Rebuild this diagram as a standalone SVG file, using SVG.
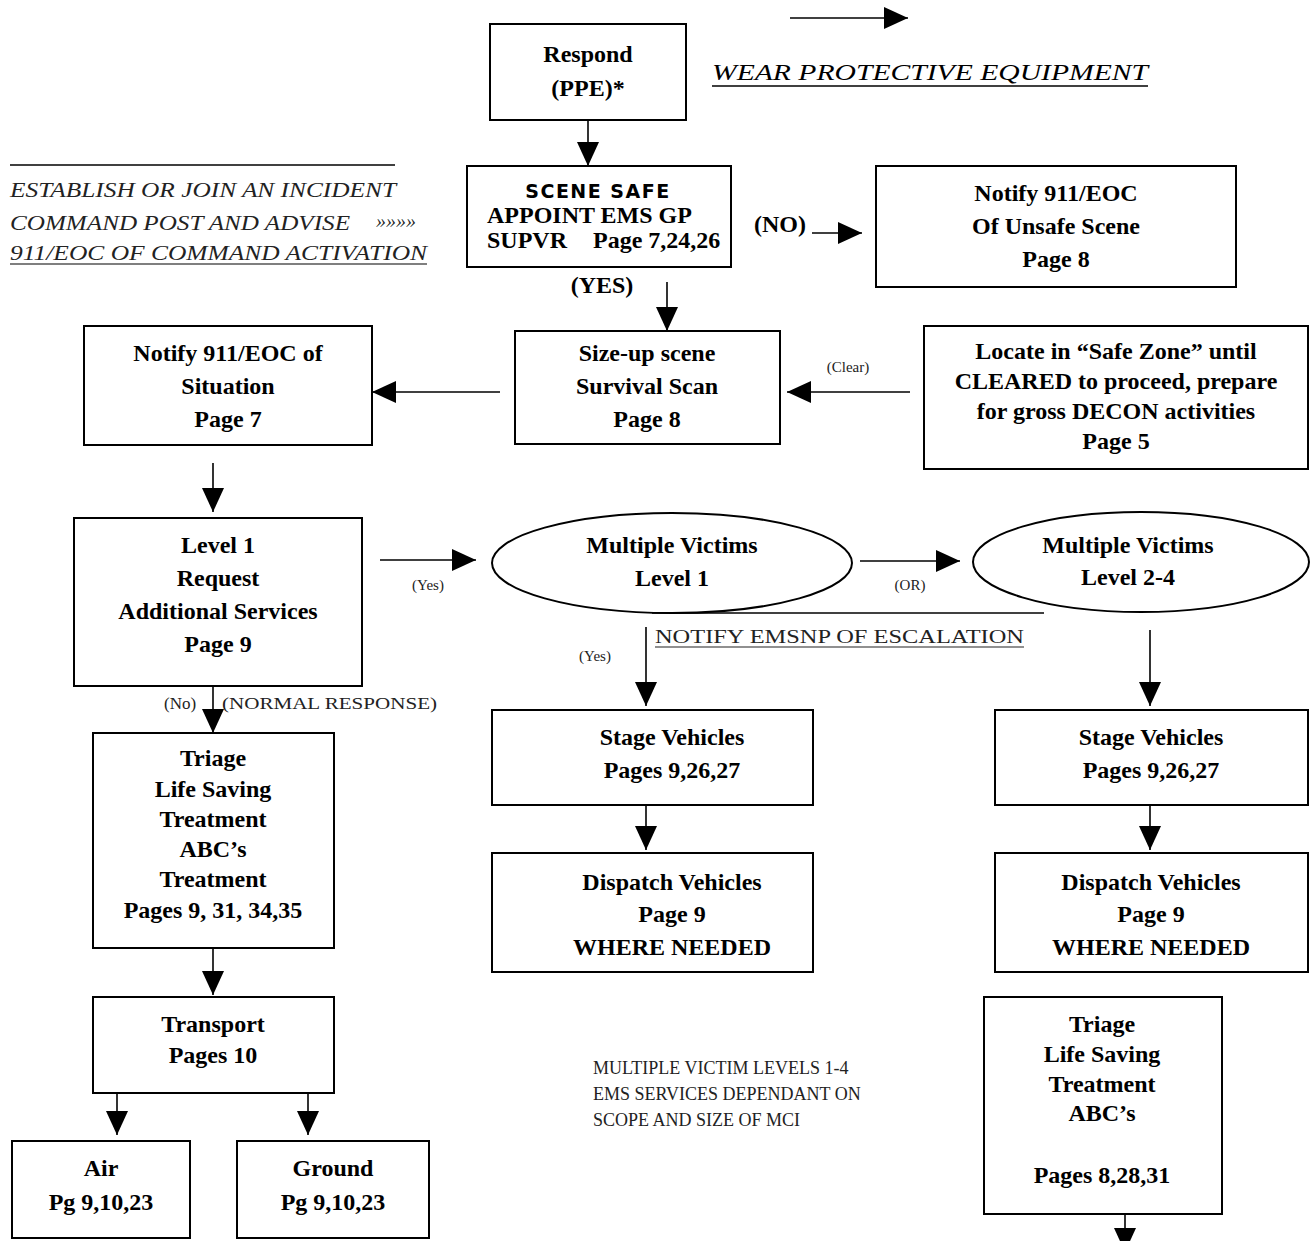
<svg xmlns="http://www.w3.org/2000/svg" width="1314" height="1241" viewBox="0 0 1314 1241">
<style>
.box{fill:#fff;stroke:#000;stroke-width:2}
.t{font-family:"Liberation Serif","Times New Roman",serif;font-weight:bold;font-size:24px;fill:#000;text-anchor:middle}
.l{text-anchor:start}
.s{font-family:"Liberation Serif","Times New Roman",serif;font-size:15px;fill:#222;text-anchor:middle}
.it{font-family:"Liberation Serif","Times New Roman",serif;font-style:italic;font-size:20px;fill:#222}
.c{stroke:#000;stroke-width:1.6;fill:none}
</style>
<defs>
<marker id="ah" viewBox="0 0 24 22" refX="24" refY="11" markerWidth="24" markerHeight="22" markerUnits="userSpaceOnUse" orient="auto">
<path d="M0,0 L24,11 L0,22 Z" fill="#000"/>
</marker>
</defs>
<rect width="1314" height="1241" fill="#fff"/>

<g id="connectors">
<line class="c" x1="790" y1="18" x2="908" y2="18" marker-end="url(#ah)"/>
<line class="c" x1="588" y1="120" x2="588" y2="166" marker-end="url(#ah)"/>
<line class="c" x1="812" y1="233" x2="862" y2="233" marker-end="url(#ah)"/>
<line class="c" x1="667" y1="282" x2="667" y2="331" marker-end="url(#ah)"/>
<line class="c" x1="500" y1="392" x2="372" y2="392" marker-end="url(#ah)"/>
<line class="c" x1="910" y1="392" x2="787" y2="392" marker-end="url(#ah)"/>
<line class="c" x1="213" y1="463" x2="213" y2="512" marker-end="url(#ah)"/>
<line class="c" x1="380" y1="560" x2="476" y2="560" marker-end="url(#ah)"/>
<line class="c" x1="860" y1="561" x2="960" y2="561" marker-end="url(#ah)"/>
<line class="c" x1="652" y1="613" x2="1044" y2="613"/>
<line class="c" x1="646" y1="627" x2="646" y2="706" marker-end="url(#ah)"/>
<line class="c" x1="1150" y1="630" x2="1150" y2="706" marker-end="url(#ah)"/>
<line class="c" x1="213" y1="686" x2="213" y2="733" marker-end="url(#ah)"/>
<line class="c" x1="646" y1="805" x2="646" y2="850" marker-end="url(#ah)"/>
<line class="c" x1="1150" y1="805" x2="1150" y2="850" marker-end="url(#ah)"/>
<line class="c" x1="213" y1="948" x2="213" y2="995" marker-end="url(#ah)"/>
<line class="c" x1="117" y1="1088" x2="117" y2="1135" marker-end="url(#ah)"/>
<line class="c" x1="308" y1="1088" x2="308" y2="1135" marker-end="url(#ah)"/>
<line class="c" x1="1125" y1="1214" x2="1125" y2="1252" marker-end="url(#ah)"/>
</g>

<g id="labels">
<text x="712" y="80" font-family="Liberation Serif, serif" font-style="italic" font-size="24" textLength="436" lengthAdjust="spacingAndGlyphs" fill="#000">WEAR PROTECTIVE EQUIPMENT</text>
<line x1="712" y1="86" x2="1148" y2="86" stroke="#000" stroke-width="1.5"/>
<line x1="10" y1="165" x2="395" y2="165" stroke="#000" stroke-width="1.5"/>
<text class="it" x="10" y="197" textLength="386" lengthAdjust="spacingAndGlyphs">ESTABLISH OR JOIN AN INCIDENT</text>
<text class="it" x="10" y="230" textLength="340" lengthAdjust="spacingAndGlyphs">COMMAND POST AND ADVISE</text>
<text class="it" x="376" y="228" font-size="13">»»»»</text>
<text class="it" x="10" y="260" textLength="417" lengthAdjust="spacingAndGlyphs">911/EOC OF COMMAND ACTIVATION</text>
<line x1="10" y1="264" x2="427" y2="264" stroke="#000" stroke-width="1.2"/>
<text class="t" x="602" y="293" font-size="25">(YES)</text>
<text class="t" x="780" y="232" font-size="25">(NO)</text>
<text class="s" x="848" y="372">(Clear)</text>
<text class="s" x="428" y="590">(Yes)</text>
<text class="s" x="910" y="590">(OR)</text>
<text x="655" y="643" font-family="Liberation Serif, serif" font-size="18" fill="#222" textLength="369" lengthAdjust="spacingAndGlyphs">NOTIFY EMSNP OF ESCALATION</text>
<line x1="655" y1="647" x2="1024" y2="647" stroke="#222" stroke-width="1.2"/>
<text class="s" x="595" y="661">(Yes)</text>
<text x="164" y="709" font-family="Liberation Serif, serif" font-size="17" fill="#222">(No)</text>
<text x="222" y="709" font-family="Liberation Serif, serif" font-size="17" fill="#222" textLength="215" lengthAdjust="spacingAndGlyphs">(NORMAL RESPONSE)</text>
<g font-family="Liberation Serif, serif" font-size="18" fill="#222">
<text x="593" y="1074">MULTIPLE VICTIM LEVELS 1-4</text>
<text x="593" y="1100">EMS SERVICES DEPENDANT ON</text>
<text x="593" y="1126">SCOPE AND SIZE OF MCI</text>
</g>
</g>

<g id="respond"><rect class="box" x="490" y="24" width="196" height="96"/>
<text class="t" x="588" y="62" font-size="26">Respond</text><text class="t" x="588" y="96" font-size="26">(PPE)*</text></g>

<g id="scene-safe"><rect class="box" x="467" y="166" width="264" height="101"/>
<text x="598" y="198" font-family="DejaVu Sans, sans-serif" font-weight="900" font-size="19" text-anchor="middle" letter-spacing="1.5">SCENE SAFE</text>
<text class="t l" x="487" y="223" font-size="16">APPOINT EMS GP</text>
<text class="t l" x="487" y="248" font-size="16">SUPVR</text>
<text class="t l" x="593" y="248" font-size="16">Page 7,24,26</text></g>

<g id="notify-unsafe"><rect class="box" x="876" y="166" width="360" height="121"/>
<text class="t" x="1056" y="201">Notify 911/EOC</text><text class="t" x="1056" y="234">Of Unsafe Scene</text><text class="t" x="1056" y="267">Page 8</text></g>

<g id="notify-situation"><rect class="box" x="84" y="326" width="288" height="119"/>
<text class="t" x="228" y="361">Notify 911/EOC of</text><text class="t" x="228" y="394">Situation</text><text class="t" x="228" y="427">Page 7</text></g>

<g id="size-up"><rect class="box" x="515" y="331" width="265" height="113"/>
<text class="t" x="647" y="361">Size-up scene</text><text class="t" x="647" y="394">Survival Scan</text><text class="t" x="647" y="427">Page 8</text></g>

<g id="locate"><rect class="box" x="924" y="326" width="384" height="143"/>
<text class="t" font-size="21" x="1116" y="359">Locate in “Safe Zone” until</text><text class="t" font-size="21" x="1116" y="389">CLEARED to proceed, prepare</text><text class="t" font-size="21" x="1116" y="419">for gross DECON activities</text><text class="t" font-size="21" x="1116" y="449">Page 5</text></g>

<g id="level1"><rect class="box" x="74" y="518" width="288" height="168"/>
<text class="t" x="218" y="553">Level 1</text><text class="t" x="218" y="586">Request</text><text class="t" x="218" y="619">Additional Services</text><text class="t" x="218" y="652">Page 9</text></g>

<g id="mv-level1"><ellipse class="box" cx="672" cy="563" rx="180" ry="50"/>
<text class="t" x="672" y="553">Multiple Victims</text><text class="t" x="672" y="586">Level 1</text></g>

<g id="mv-level24"><ellipse class="box" cx="1141" cy="562" rx="168" ry="50"/>
<text class="t" x="1128" y="553">Multiple Victims</text><text class="t" x="1128" y="585">Level 2-4</text></g>

<g id="triage-left"><rect class="box" x="93" y="733" width="241" height="215"/>
<text class="t" font-size="22" x="213" y="766">Triage</text><text class="t" font-size="22" x="213" y="797">Life Saving</text><text class="t" font-size="22" x="213" y="827">Treatment</text><text class="t" font-size="22" x="213" y="857">ABC’s</text><text class="t" font-size="22" x="213" y="887">Treatment</text><text class="t" font-size="22" x="213" y="918">Pages 9, 31, 34,35</text></g>

<g id="transport"><rect class="box" x="93" y="997" width="241" height="96"/>
<text class="t" font-size="22" x="213" y="1032">Transport</text><text class="t" font-size="22" x="213" y="1063">Pages 10</text></g>

<g id="air"><rect class="box" x="12" y="1141" width="178" height="97"/>
<text class="t" x="101" y="1176">Air</text><text class="t" x="101" y="1210">Pg 9,10,23</text></g>

<g id="ground"><rect class="box" x="237" y="1141" width="192" height="97"/>
<text class="t" x="333" y="1176">Ground</text><text class="t" x="333" y="1210">Pg 9,10,23</text></g>

<g id="stage-left"><rect class="box" x="492" y="710" width="321" height="95"/>
<text class="t" x="672" y="745">Stage Vehicles</text><text class="t" x="672" y="778">Pages 9,26,27</text></g>

<g id="dispatch-left"><rect class="box" x="492" y="853" width="321" height="119"/>
<text class="t" x="672" y="890">Dispatch Vehicles</text><text class="t" x="672" y="922">Page 9</text><text class="t" x="672" y="955">WHERE NEEDED</text></g>

<g id="stage-right"><rect class="box" x="995" y="710" width="313" height="95"/>
<text class="t" x="1151" y="745">Stage Vehicles</text><text class="t" x="1151" y="778">Pages 9,26,27</text></g>

<g id="dispatch-right"><rect class="box" x="995" y="853" width="313" height="119"/>
<text class="t" x="1151" y="890">Dispatch Vehicles</text><text class="t" x="1151" y="922">Page 9</text><text class="t" x="1151" y="955">WHERE NEEDED</text></g>

<g id="triage-right"><rect class="box" x="984" y="997" width="238" height="217"/>
<text class="t" font-size="22" x="1102" y="1032">Triage</text><text class="t" font-size="22" x="1102" y="1062">Life Saving</text><text class="t" font-size="22" x="1102" y="1092">Treatment</text><text class="t" font-size="22" x="1102" y="1121">ABC’s</text><text class="t" font-size="22" x="1102" y="1183">Pages 8,28,31</text></g>
</svg>
